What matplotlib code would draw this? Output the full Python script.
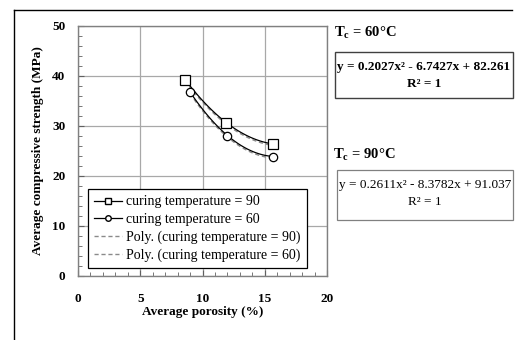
import matplotlib.pyplot as plt
import numpy as np
from matplotlib.lines import Line2D

plt.rcParams['font.family'] = ['Liberation Serif', 'DejaVu Serif']
plt.rcParams['mathtext.fontset'] = 'custom'
plt.rcParams['mathtext.rm'] = 'Liberation Serif'
plt.rcParams['mathtext.bf'] = 'Liberation Serif:bold'

# data
por_90 = [8.6, 11.9, 15.7]
str_90 = [39.3, 30.7, 26.4]
por_60 = [9.0, 12.0, 15.7]
str_60 = [36.8, 28.1, 23.9]
xticks = [0, 5, 10, 15, 20]
yticks = [0, 10, 20, 30, 40, 50]

W, H = 515, 340
fig = plt.figure(figsize=(W / 100, H / 100), dpi=100)
ax = fig.add_axes([78 / W, 1 - 276 / H, (327 - 78) / W, (276 - 26) / H])

# outer frame (left and top only)
fig.add_artist(Line2D([14 / W, 14 / W], [0, 1 - 10 / H], color='black', lw=1))
fig.add_artist(Line2D([14 / W, 512 / W], [1 - 10 / H, 1 - 10 / H], color='black', lw=1))

# smoothed lines + poly trendlines
for px, py, mk, ms in [(por_90, str_90, 's', 6.5), (por_60, str_60, 'o', 6)]:
    c = np.polyfit(px, py, 2)
    xs = np.linspace(min(px), max(px), 60)
    ax.plot(xs, np.polyval(c, xs) - 0.3, color='#8a8a8a', lw=1, ls=(0, (3, 2)), zorder=2)
    ax.plot(xs, np.polyval(c, xs), color='black', lw=0.9, zorder=3)
    ax.plot(px, py, ls='none', marker=mk, ms=ms, mfc='white', mec='black', mew=0.9, zorder=4)

ax.set_xlim(0, 20)
ax.set_ylim(0, 50)
ax.set_xticks(xticks)
ax.set_yticks(yticks)
ax.set_xticks(np.arange(0, 21, 1), minor=True)
ax.set_yticks(np.arange(0, 51, 2), minor=True)
ax.grid(True, which='major', color='#a8a8a8', lw=0.9)
ax.set_axisbelow(True)
for s in ax.spines.values():
    s.set_color('#808080')
    s.set_linewidth(1)
ax.tick_params(which='both', direction='in', color='#606060', labelsize=9.5)
ax.tick_params(which='major', length=4)
ax.tick_params(axis='y', which='major', pad=9)
ax.tick_params(axis='x', which='major', pad=12)
ax.tick_params(which='minor', length=3)
for lab in ax.get_xticklabels() + ax.get_yticklabels():
    lab.set_fontweight('bold')

ax.set_xlabel('Average porosity (%)', fontsize=9.5, fontweight='bold', labelpad=1)
ax.set_ylabel('Average compressive strength (MPa)', fontsize=9.5, fontweight='bold', labelpad=6)

handles = [
    Line2D([], [], color='black', lw=0.9, marker='s', ms=4.5, mfc='white', mec='black'),
    Line2D([], [], color='black', lw=0.9, marker='o', ms=4, mfc='white', mec='black'),
    Line2D([], [], color='#8a8a8a', lw=1, ls=(0, (3, 2))),
    Line2D([], [], color='#8a8a8a', lw=1, ls=(0, (3, 2))),
]
labels = ['curing temperature = 90', 'curing temperature = 60',
          'Poly. (curing temperature = 90)', 'Poly. (curing temperature = 60)']
leg = ax.legend(handles, labels, loc='lower left', bbox_to_anchor=(0.04, 0.032),
                borderaxespad=0, fontsize=10, handlelength=2.0, handletextpad=0.3,
                labelspacing=0.32, borderpad=0.45, fancybox=False, framealpha=1,
                edgecolor='black')
leg.get_frame().set_linewidth(0.9)

# annotations on the right
fig.text(334 / W, 1 - 33 / H, r'T$_\mathbf{c}$ = 60°C', fontsize=10.5, fontweight='bold', va='center')
fig.add_artist(plt.Rectangle((335 / W, 1 - 98 / H), (513 - 335) / W, (98 - 52) / H,
                             transform=fig.transFigure, fill=False, ec='#404040', lw=1))
fig.text(424 / W, 1 - 67 / H, 'y = 0.2027x² - 6.7427x + 82.261', fontsize=9.5,
         fontweight='bold', ha='center', va='center')
fig.text(424 / W, 1 - 84 / H, 'R² = 1', fontsize=9.5, fontweight='bold',
         ha='center', va='center')

fig.text(333 / W, 1 - 155 / H, r'T$_\mathbf{c}$ = 90°C', fontsize=10.5, fontweight='bold', va='center')
fig.add_artist(plt.Rectangle((337 / W, 1 - 220 / H), (513 - 337) / W, (220 - 170) / H,
                             transform=fig.transFigure, fill=False, ec='#808080', lw=0.9))
fig.text(425 / W, 1 - 185 / H, 'y = 0.2611x² - 8.3782x + 91.037', fontsize=9.5,
         ha='center', va='center')
fig.text(425 / W, 1 - 202 / H, 'R² = 1', fontsize=9.5, ha='center', va='center')

fig.savefig('out.png', dpi=100)
